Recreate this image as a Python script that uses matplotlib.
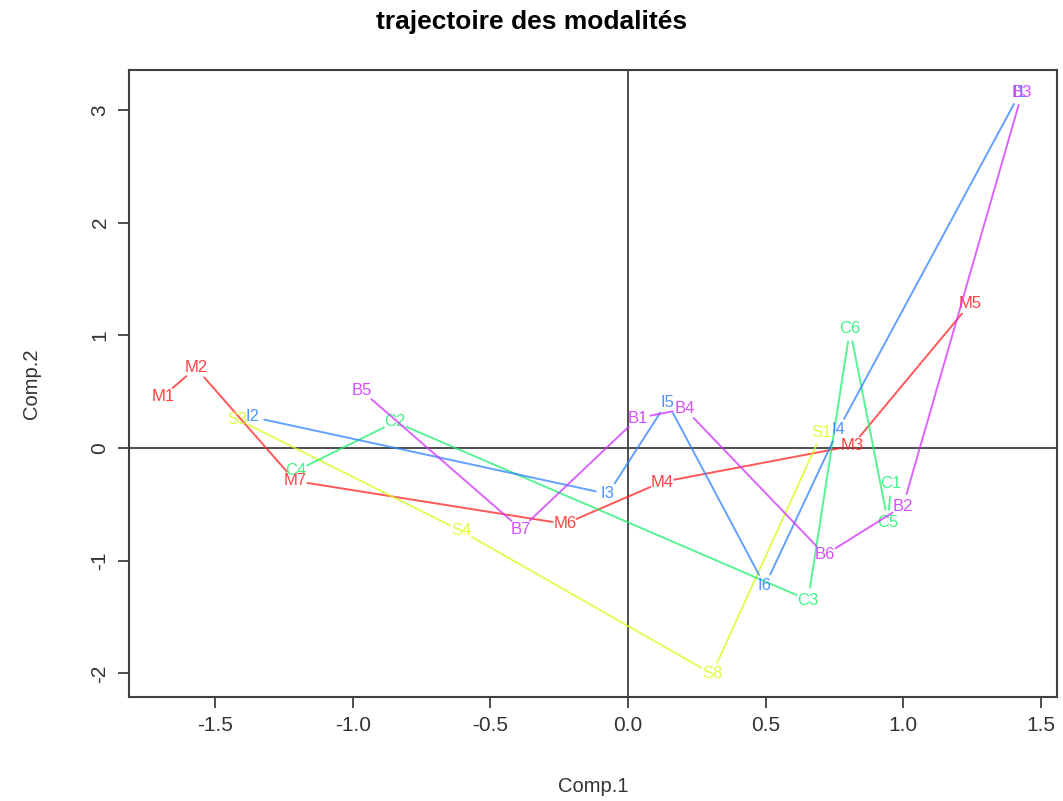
import matplotlib
matplotlib.use('Agg')
import matplotlib.pyplot as plt

plt.rcParams['font.family'] = ['Liberation Sans', 'DejaVu Sans']

# trajectories, in drawing order
m_labels = ['M1', 'M2', 'M7', 'M6', 'M4', 'M3', 'M5']
m_x = [-1.688, -1.569, -1.209, -0.229, 0.123, 0.813, 1.242]
m_y = [0.461, 0.710, -0.293, -0.674, -0.302, 0.018, 1.278]

s_labels = ['S3', 'S4', 'S8', 'S1']
s_x = [-1.420, -0.606, 0.305, 0.704]
s_y = [0.257, -0.736, -2.005, 0.133]

c_labels = ['C4', 'C2', 'C3', 'C6', 'C5', 'C1']
c_x = [-1.206, -0.846, 0.654, 0.806, 0.944, 0.955]
c_y = [-0.204, 0.231, -1.349, 1.056, -0.657, -0.319]

i_labels = ['I2', 'I3', 'I5', 'I6', 'I4', 'I1']
i_x = [-1.365, -0.073, 0.142, 0.497, 0.763, 1.423]
i_y = [0.275, -0.408, 0.408, -1.224, 0.160, 3.150]

b_labels = ['B5', 'B7', 'B1', 'B4', 'B6', 'B2', 'B3']
b_x = [-0.966, -0.389, 0.036, 0.207, 0.715, 0.999, 1.431]
b_y = [0.506, -0.719, 0.266, 0.346, -0.949, -0.515, 3.150]

series = [
    (m_labels, m_x, m_y, '#FF2020'),
    (s_labels, s_x, s_y, '#D4FF20'),
    (c_labels, c_x, c_y, '#20F070'),
    (i_labels, i_x, i_y, '#3080FF'),
    (b_labels, b_x, b_y, '#D030FF'),
]

fig = plt.figure(figsize=(10.63, 8.01), dpi=100)
ax = fig.add_axes([0.1214, 0.1298, 0.873, 0.7828])

ax.axhline(0, color='#404040', lw=1.3, zorder=1)
ax.axvline(0, color='#404040', lw=1.3, zorder=1)

for labels, xs, ys, col in series:
    # segments stop short of the labels, like R's type="b"
    for k in range(len(xs) - 1):
        ax.annotate('', xy=(xs[k + 1], ys[k + 1]), xytext=(xs[k], ys[k]),
                    arrowprops=dict(arrowstyle='-', color=col, lw=1.4, alpha=0.75,
                                    shrinkA=9, shrinkB=9))
    for lab, x, y in zip(labels, xs, ys):
        ax.text(x, y, lab, color=col, fontsize=12, ha='center', va='center', alpha=0.85)

ax.set_xlim(-1.812, 1.558)
ax.set_ylim(-2.21, 3.354)
ax.set_xticks([-1.5, -1.0, -0.5, 0.0, 0.5, 1.0, 1.5])
ax.set_xticklabels(['-1.5', '-1.0', '-0.5', '0.0', '0.5', '1.0', '1.5'])
ax.set_yticks([-2, -1, 0, 1, 2, 3])
ax.set_yticklabels(['-2', '-1', '0', '1', '2', '3'], rotation=90, va='center')
ax.tick_params(length=8, width=1.3, color='#404040', labelsize=15, labelcolor='#333333', pad=6)
for sp in ax.spines.values():
    sp.set_color('#404040')
    sp.set_linewidth(1.5)

ax.set_xlabel('Comp.1', fontsize=14.5, color='#333333', labelpad=30)
ax.set_ylabel('Comp.2', fontsize=14.5, color='#333333', labelpad=36)
fig.suptitle('trajectoire des modalités', fontsize=19, fontweight='bold', y=0.987)

fig.savefig('out.png', dpi=100)
